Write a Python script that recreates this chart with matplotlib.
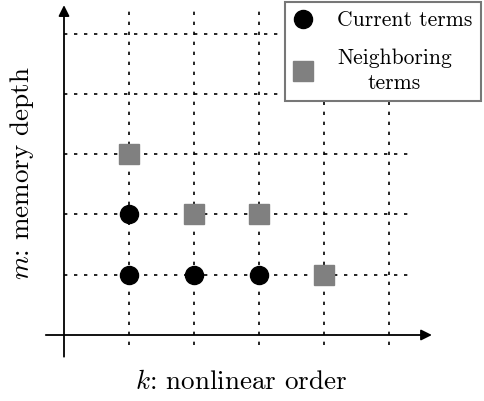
import matplotlib.pyplot as plt
from matplotlib.lines import Line2D

plt.rcParams['font.family'] = 'cmr10'
plt.rcParams['mathtext.fontset'] = 'cm'
plt.rcParams['axes.formatter.use_mathtext'] = True

# grid positions (k, m)
k_grid = [1, 2, 3, 4, 5]
m_grid = [1, 2, 3, 4, 5]

current_k = [1, 2, 3, 1]
current_m = [1, 1, 1, 2]
neighbor_k = [1, 2, 3, 4]
neighbor_m = [3, 2, 2, 1]

fig = plt.figure(figsize=(4.84, 4.01), dpi=100)
ax = fig.add_axes([0, 0, 1, 1])
# pixel mapping: origin at (64, 335), 65 px per k, 60.3 px per m
ax.set_xlim(-64 / 65, (484 - 64) / 65)
ax.set_ylim((335 - 401) / 60.3, 335 / 60.3)
ax.axis('off')

dots = (0, (2, 4))
for k in k_grid:
    ax.plot([k, k], [-0.17, 5.39], color='black', lw=1.2, ls=dots, zorder=1)
for m in m_grid:
    ax.plot([0, 5.29], [m, m], color='black', lw=1.2, ls=dots, zorder=1)

# axes with arrows
ax.annotate('', xy=(5.66, 0), xytext=(-0.28, 0),
            arrowprops=dict(arrowstyle='-|>', color='black', lw=1.3,
                            mutation_scale=16, shrinkA=0, shrinkB=0))
ax.annotate('', xy=(0, 5.47), xytext=(0, -0.36),
            arrowprops=dict(arrowstyle='-|>', color='black', lw=1.3,
                            mutation_scale=16, shrinkA=0, shrinkB=0))

ax.plot(current_k, current_m, 'o', color='black', ms=13, ls='none', zorder=3)
ax.plot(neighbor_k, neighbor_m, 's', color='#808080', ms=15, ls='none', zorder=3)

ax.text((241 - 64) / 65, (335 - 382) / 60.3, r'$k$: nonlinear order', fontsize=19.5,
        ha='center', va='center')
ax.text((22 - 64) / 65, (335 - 173) / 60.3, r'$m$: memory depth', fontsize=19.5,
        ha='center', va='center', rotation=90)

handles = [Line2D([], [], marker='o', color='black', ls='none', ms=13),
           Line2D([], [], marker='s', color='#808080', ls='none', ms=15)]
leg = ax.legend(handles, ['Current terms', 'Neighboring\nterms'],
                loc='upper right', bbox_to_anchor=(481 / 484, 1 - 2 / 401),
                bbox_transform=fig.transFigure, fontsize=15.5, frameon=True,
                fancybox=False, edgecolor='#777777', framealpha=1,
                handletextpad=1.2, borderpad=0.4, labelspacing=0.85,
                handlelength=0.8, borderaxespad=0)
leg.get_frame().set_linewidth(1.5)
for t in leg.get_texts():
    t.set_multialignment('center')
    t.set_linespacing(1.35)

fig.savefig('out.png', dpi=100)
